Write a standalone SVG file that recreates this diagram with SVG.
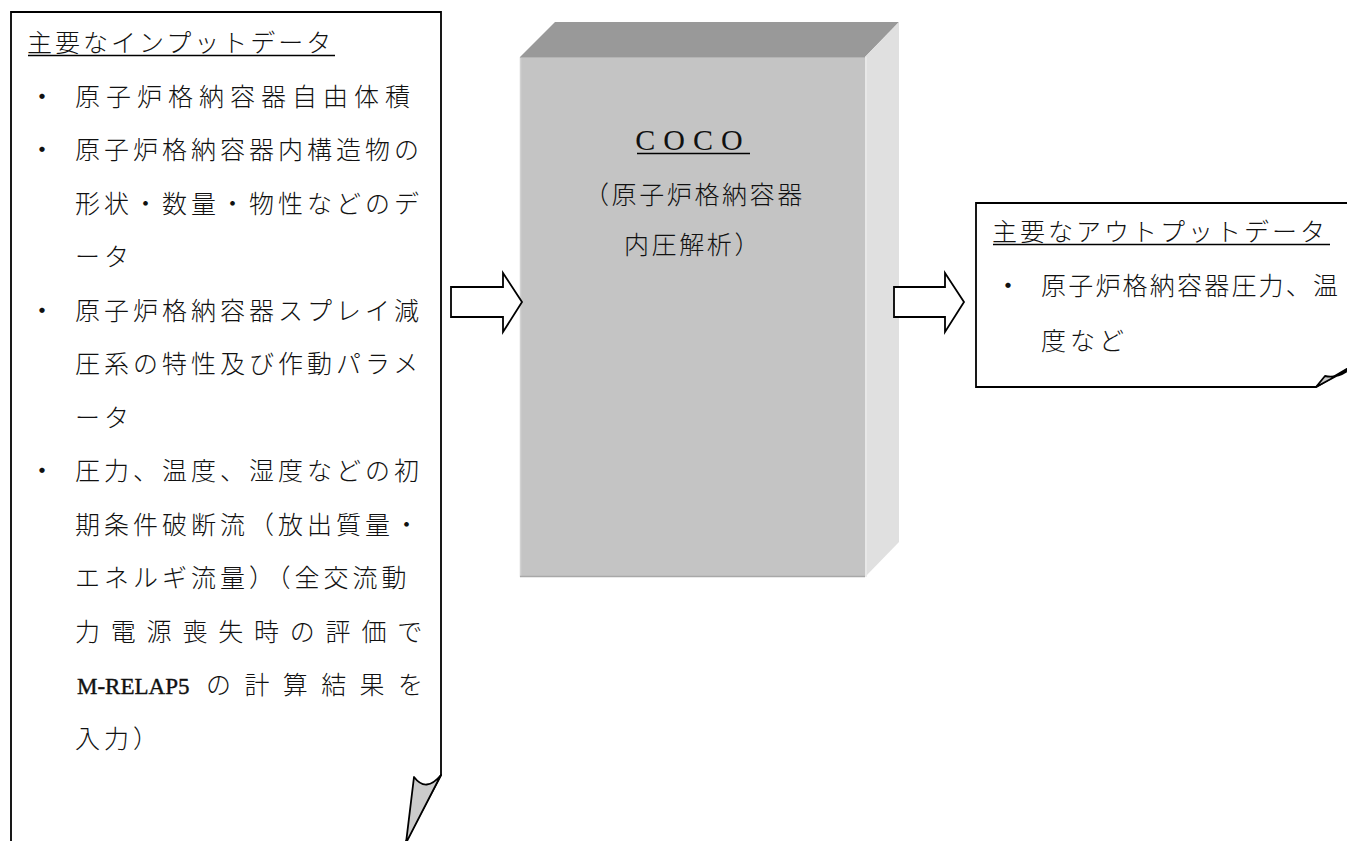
<svg xmlns="http://www.w3.org/2000/svg" width="1347" height="841" viewBox="0 0 1347 841">
<style>
.jp{font-family:"Noto Sans CJK JP","Noto Sans CJK SC",sans-serif;font-size:25px;font-weight:300;fill:#111;letter-spacing:4px}
.bul{font-family:"Noto Sans CJK JP",sans-serif;font-size:25px;fill:#111;text-anchor:middle}
.ul{stroke:#000;stroke-width:1.6}
.box{fill:#fff;stroke:#000;stroke-width:1.8}
.fold{fill:#cbcbcb;stroke:#000;stroke-width:1.8;stroke-linejoin:round}
.arrow{fill:#fff;stroke:#000;stroke-width:1.8;stroke-linejoin:miter}
</style>
<rect width="1347" height="841" fill="#fff"/>

<g id="coco">
  <polygon points="520,57 555,22 899,22 865,57" fill="#999999"/>
  <polygon points="865,57 899,22 899,542 865,577" fill="#e0e0e0"/>
  <rect x="520" y="57" width="345" height="520" fill="#c4c4c4"/>
  <line x1="520.5" y1="57" x2="520.5" y2="577" stroke="#d2d2d2" stroke-width="1.5"/>
  <line x1="520" y1="576.5" x2="865" y2="576.5" stroke="#a8a8a8" stroke-width="1.5"/>
  <line x1="866" y1="57" x2="866" y2="577" stroke="#ebebeb" stroke-width="1.5"/>
  <line x1="520" y1="57.5" x2="865" y2="57.5" stroke="#b4b4b4" stroke-width="1"/>
  <text x="693" y="150" text-anchor="middle" font-family="Liberation Serif, serif" font-size="30" letter-spacing="8" fill="#111">COCO</text>
  <line class="ul" x1="637" y1="153.5" x2="750" y2="153.5"/>
  <text class="jp" x="584" y="204" style="letter-spacing:2.6px">（原子炉格納容器</text>
  <text class="jp" x="624" y="254" style="letter-spacing:2.6px">内圧解析）</text>
</g>

<g id="input-box">
  <path class="box" d="M11,845 V12 H441 V775 L403,847"/>
  <path class="fold" d="M441,775 Q426,793 414,777 L406,843 Z"/>
  <text class="jp" x="27" y="52" style="letter-spacing:3px">主要なインプットデータ</text>
  <line class="ul" x1="28" y1="55.5" x2="335" y2="55.5"/>
  <text class="bul" x="42" y="105.5">・</text>
  <text class="jp" x="75" y="105.5" style="letter-spacing:6px">原子炉格納容器自由体積</text>
  <text class="bul" x="42" y="159">・</text>
  <text class="jp" x="75" y="159">原子炉格納容器内構造物の</text>
  <text class="jp" x="75" y="212.5">形状・数量・物性などのデ</text>
  <text class="jp" x="75" y="266">ータ</text>
  <text class="bul" x="42" y="319.5">・</text>
  <text class="jp" x="75" y="319.5">原子炉格納容器スプレイ減</text>
  <text class="jp" x="75" y="373">圧系の特性及び作動パラメ</text>
  <text class="jp" x="75" y="426.5">ータ</text>
  <text class="bul" x="42" y="480">・</text>
  <text class="jp" x="75" y="480">圧力、温度、湿度などの初</text>
  <text class="jp" x="75" y="533.5">期条件破断流（放出質量・</text>
  <text class="jp" x="75" y="587">エネルギ流量）（全交流動</text>
  <text class="jp" x="75" y="640.5" style="letter-spacing:10.8px">力電源喪失時の評価で</text>
  <text x="77" y="694" font-family="Liberation Serif, serif" font-size="23" fill="#111" stroke="#111" stroke-width="0.4">M-RELAP5</text>
  <text class="jp" x="206" y="694" style="letter-spacing:13.4px">の計算結果を</text>
  <text class="jp" x="75" y="747.5">入力）</text>
</g>

<g id="output-box">
  <path class="box" d="M1352,203 H976 V387 H1316 L1352,366"/>
  <path class="fold" d="M1316,387 L1325,376 Q1338,379 1351,368 Z"/>
  <text class="jp" x="992" y="241" style="letter-spacing:3px">主要なアウトプットデータ</text>
  <line class="ul" x1="993" y1="244.5" x2="1330" y2="244.5"/>
  <text class="bul" x="1008" y="295">・</text>
  <text class="jp" x="1041" y="295" textLength="297" lengthAdjust="spacing" style="letter-spacing:0">原子炉格納容器圧力、温</text>
  <text class="jp" x="1041" y="350">度など</text>
</g>

<g id="connectors">
  <polygon class="arrow" points="451,287 503,287 503,273 522,302 503,332 503,317 451,317"/>
  <polygon class="arrow" points="894,287 945,287 945,273 964,302 945,332 945,317 894,317"/>
</g>
</svg>
